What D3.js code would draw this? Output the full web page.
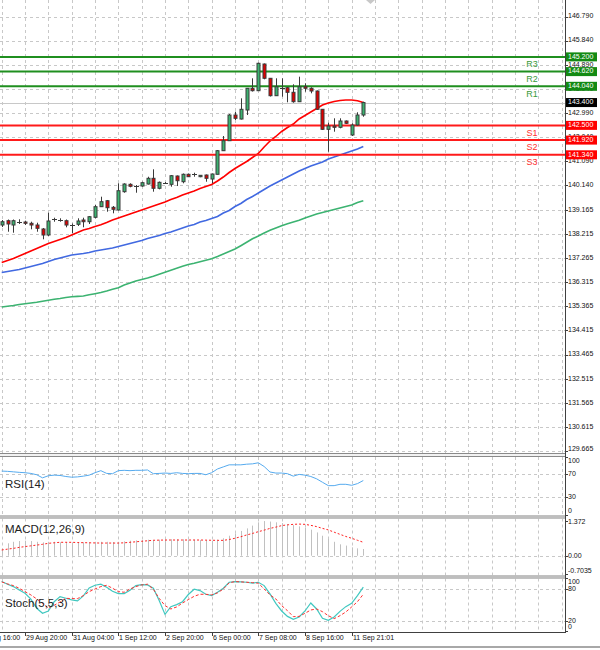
<!DOCTYPE html>
<html><head><meta charset="utf-8">
<script src="https://cdn.jsdelivr.net/npm/d3@7"></script>
<style>body{margin:0;background:#fff}svg{display:block}text{font-family:"Liberation Sans",Arial,sans-serif}</style>
</head><body><svg id="c" width="600" height="650"></svg>
<script>
// ---------- data ----------
const opens=[138.573,138.743,138.573,138.699,138.691,138.640,138.573,138.416,138.179,138.790,138.762,138.743,138.581,138.601,138.770,138.703,138.877,139.295,139.531,139.271,139.164,139.886,140.177,140.110,140.110,140.189,140.414,140.020,140.233,140.177,140.505,140.280,140.572,140.568,140.477,140.544,140.386,140.572,141.502,141.896,142.909,142.751,143.106,143.962,143.867,144.919,144.356,143.670,143.989,143.985,143.804,143.433,144.025,143.962,143.855,143.134,142.345,142.476,142.424,142.673,142.121,142.515,142.909];
const highs=[138.770,138.790,138.790,138.798,138.743,138.703,138.664,138.455,139.058,138.861,138.837,138.790,138.632,138.837,138.861,138.928,139.362,139.689,139.559,139.322,140.217,140.217,140.217,140.150,140.280,140.477,140.769,140.288,140.268,140.544,140.524,140.603,140.603,140.635,140.544,140.564,140.603,141.529,142.081,142.948,143.039,143.567,143.973,144.356,144.971,144.939,144.368,144.356,144.356,144.013,144.119,144.419,144.159,144.001,143.875,143.146,142.606,142.779,142.779,142.692,142.582,143.016,143.433];
const lows=[138.494,138.309,138.270,138.613,138.573,138.404,138.309,138.010,138.140,138.703,138.703,138.483,138.246,138.534,138.483,138.613,138.837,139.283,139.097,139.034,139.145,139.846,140.059,139.846,140.083,140.170,139.886,139.980,140.189,140.083,140.110,140.217,140.465,140.477,140.457,140.280,140.217,140.564,141.490,141.884,142.712,142.732,142.909,143.835,143.855,144.316,143.638,143.658,143.630,143.410,143.394,143.422,143.828,143.764,143.106,142.318,141.462,142.251,142.385,142.554,142.081,142.495,142.842];
const closes=[138.703,138.613,138.743,138.707,138.640,138.573,138.443,138.179,138.731,138.798,138.770,138.573,138.565,138.731,138.703,138.900,139.295,139.492,139.255,139.192,139.925,140.189,140.099,140.091,140.241,140.414,140.020,140.256,140.241,140.516,140.319,140.572,140.477,140.576,140.532,140.414,140.583,141.502,141.896,142.909,142.779,143.134,143.962,143.867,144.947,144.356,143.670,144.025,143.981,143.804,143.433,144.025,143.962,143.855,143.134,142.345,142.476,142.424,142.673,142.582,142.515,142.909,143.400];
const maFast=[137.095,137.174,137.253,137.351,137.450,137.548,137.647,137.745,137.844,137.923,138.002,138.080,138.179,138.278,138.376,138.435,138.514,138.585,138.672,138.770,138.849,138.928,139.007,139.086,139.164,139.243,139.322,139.401,139.480,139.578,139.657,139.756,139.835,139.913,140.012,140.091,140.170,140.308,140.465,140.643,140.800,140.938,141.076,141.234,141.392,141.648,141.884,142.062,142.259,142.416,142.554,142.751,142.889,143.027,143.165,143.303,143.382,143.441,143.481,143.500,143.500,143.469,143.402];
const maMid=[136.701,136.740,136.780,136.819,136.878,136.937,136.997,137.056,137.134,137.213,137.272,137.332,137.391,137.418,137.450,137.489,137.548,137.588,137.627,137.667,137.726,137.785,137.844,137.903,137.962,138.041,138.100,138.159,138.238,138.297,138.376,138.455,138.534,138.593,138.691,138.751,138.829,138.908,139.046,139.145,139.302,139.421,139.578,139.697,139.835,139.973,140.110,140.229,140.347,140.465,140.583,140.702,140.800,140.899,140.978,141.056,141.175,141.254,141.332,141.411,141.490,141.569,141.667];
const maSlow=[135.341,135.369,135.400,135.440,135.467,135.499,135.526,135.566,135.605,135.645,135.676,135.715,135.743,135.759,135.775,135.822,135.865,135.913,135.972,136.039,136.102,136.208,136.287,136.366,136.425,136.484,136.551,136.630,136.709,136.788,136.866,136.945,137.016,137.067,137.127,137.186,137.241,137.332,137.430,137.529,137.627,137.757,137.891,138.029,138.140,138.258,138.364,138.455,138.546,138.624,138.691,138.758,138.849,138.928,139.007,139.066,139.125,139.184,139.243,139.302,139.362,139.460,139.531];
const rsi=[75,74.5,73.7,72.8,72.2,71,68.7,63.4,67,68,67.5,65.7,64.5,65,66.3,68,72.2,75.7,71,70.5,75.7,76.3,75.7,76.3,76.3,76.9,70.5,71,71.6,71,72.2,71,70.5,71,71,68.7,72.2,78.6,82.2,85.7,85.7,85.7,86.8,87.4,89.2,82.8,73.4,71.6,71.6,70.5,66.3,69.3,68,65.7,61.7,55.8,50,50,52.3,52.3,50.6,53.5,58.8];
const macdHist=[0.29,0.49,0.55,0.58,0.594,0.58,0.55,0.53,0.55,0.55,0.53,0.53,0.515,0.53,0.53,0.53,0.55,0.55,0.55,0.54,0.55,0.567,0.594,0.607,0.62,0.634,0.62,0.634,0.634,0.65,0.65,0.65,0.634,0.634,0.62,0.607,0.594,0.634,0.69,0.79,0.88,0.98,1.08,1.19,1.32,1.37,1.35,1.32,1.29,1.25,1.21,1.16,1.11,1.03,0.92,0.79,0.66,0.55,0.45,0.40,0.33,0.29,0.265];
const macdSignal=[0.225,0.26,0.29,0.33,0.36,0.39,0.42,0.45,0.49,0.51,0.53,0.53,0.53,0.52,0.515,0.51,0.505,0.50,0.50,0.50,0.50,0.51,0.53,0.55,0.57,0.59,0.61,0.615,0.62,0.62,0.62,0.62,0.62,0.62,0.62,0.615,0.61,0.607,0.607,0.64,0.69,0.75,0.82,0.88,0.95,1.01,1.08,1.13,1.19,1.22,1.24,1.25,1.24,1.20,1.15,1.08,1.02,0.93,0.845,0.76,0.69,0.61,0.53];
const stochMain=[94,89,84.5,78.2,71.9,60.7,43.5,34,38.4,56,65.6,62.4,59.3,57.4,67,82,87,89,83.3,75.7,71.3,71.3,77.6,86.4,88.4,87.7,81.4,58,32,46.6,50.5,56,69.5,79.5,77,70,67.5,73.8,81.4,92.7,94,93.4,92.7,90.9,92.7,86.4,70.6,52.9,38.4,28.2,22.6,27,38.4,53.5,42.2,24.5,20.8,27,37.7,46.6,52.9,67.5,83.5];
const stochSignal=[93.4,89.6,86.4,81.4,75,68.8,61.2,52.9,44,49.1,55.5,62.4,61.8,61.8,67.5,75,80,84.5,87,81.4,75,73.8,80,84.5,87.7,89,79.5,62.4,48.5,42.2,46,53.5,59.9,66.2,70,70,68.8,72.6,80,91.6,94,93.4,92.7,92,90.9,80,68.8,61.2,48.5,39,27.7,28.2,34,40.3,42.2,37.1,29.5,23.9,29.5,36.5,46,56,70];
const priceTicks=[146.790,145.840,144.890,143.940,142.990,142.040,141.090,140.140,139.165,138.215,137.265,136.315,135.365,134.415,133.465,132.515,131.565,130.615,129.665];
const levelNames=["R3","R2","R1","S1","S2","S3"];
const levelValues=[145.200,144.620,144.040,142.500,141.920,141.340];
const lastPrice=143.400;
const rsiTicks=[100,70,30,0];
const rsiGrid=[70,30];
const macdTicks=[1.372,0,-0.7035];
const macdTickLabels=["1.372","0.00","-0.7035"];
const stochTicks=[100,80,20,0];
const stochGrid=[80,20];
const timeLabels=["26 Aug 16:00","29 Aug 20:00","31 Aug 04:00","1 Sep 12:00","2 Sep 20:00","6 Sep 00:00","7 Sep 08:00","8 Sep 16:00","11 Sep 21:01"];
const timeLabelBars=[-4,4,12,20,28,36,44,52,60];

// ---------- layout ----------
const W=600,H=650,AX=565;
const svg=d3.select("#c");
svg.append("rect").attr("width",W).attr("height",H).attr("fill","#fff");
const x=d3.scaleLinear().domain([0,62]).range([1.7,363.3]);
const y=d3.scaleLinear().domain([129.665,146.79]).range([451,16.55]);
const yR=d3.scaleLinear().domain([0,100]).range([514.8,456.5]);
const yM=d3.scaleLinear().domain([-0.7035,1.372]).range([573.5,521]);
const yS=d3.scaleLinear().domain([0,100]).range([631.3,578.4]);
const panels=[{top:0,bot:453},{top:457,bot:515.5},{top:518.5,bot:575.5},{top:578.5,bot:632}];
const defs=svg.append("defs");
panels.forEach((p,k)=>{defs.append("clipPath").attr("id","cp"+k).append("rect").attr("x",0).attr("y",p.top).attr("width",AX).attr("height",p.bot-p.top);});
const G=panels.map((p,k)=>svg.append("g").attr("clip-path","url(#cp"+k+")"));
const px=v=>Math.round(v)+0.5;

// vertical grid
const gridBars=d3.range(0,100,4).filter(i=>x(i)<AX-1);
panels.forEach((p,k)=>{
  G[k].selectAll(".vg").data(gridBars).enter().append("line")
   .attr("x1",d=>px(x(d))).attr("x2",d=>px(x(d))).attr("y1",p.top).attr("y2",p.bot)
   .attr("stroke","#c8c8c8").attr("stroke-dasharray","3,3");
});
function hgrid(g,vals,sc){g.selectAll(null).data(vals).enter().append("line")
  .attr("x1",0).attr("x2",AX).attr("y1",d=>px(sc(d))).attr("y2",d=>px(sc(d)))
  .attr("stroke","#c8c8c8").attr("stroke-dasharray","3,3");}
hgrid(G[0],priceTicks,y);hgrid(G[1],rsiGrid,yR);hgrid(G[2],[0],yM);hgrid(G[3],stochGrid,yS);

// bid line
G[0].append("line").attr("x1",0).attr("x2",AX).attr("y1",px(y(lastPrice))).attr("y2",px(y(lastPrice))).attr("stroke","#c8c8c8");

// moving averages
const ln=sc=>d3.line().x((d,i)=>x(i)).y(d=>sc(d));
[[maSlow,"#3cb371"],[maMid,"#4169e1"],[maFast,"#ff0000"]].forEach(([arr,c])=>{
  G[0].append("path").attr("d",ln(y)(arr)).attr("fill","none").attr("stroke",c).attr("stroke-width",1.6);
});

// levels
levelValues.forEach((v,i)=>{
  const col=i<3?"#1f8f1f":"#ff1a1a";
  G[0].append("line").attr("x1",0).attr("x2",AX).attr("y1",y(v)).attr("y2",y(v)).attr("stroke",col).attr("stroke-width",2);
  svg.append("text").attr("x",532).attr("y",y(v)+8).attr("text-anchor","middle").attr("dominant-baseline","middle")
   .attr("font-size",9).attr("fill",i<3?"#3a9a3a":"#ff3030").text(levelNames[i]);
});

// candles
const cg=G[0].append("g");
opens.forEach((o,i)=>{
  const c=closes[i],cx=px(x(i));
  cg.append("line").attr("x1",cx).attr("x2",cx).attr("y1",y(highs[i])).attr("y2",y(lows[i])).attr("stroke","#3a3a3a");
  const t=y(Math.max(o,c)),b=y(Math.min(o,c));
  if(b-t<1.2){
    cg.append("line").attr("x1",cx-2.5).attr("x2",cx+2.5).attr("y1",px(t)).attr("y2",px(t)).attr("stroke","#3a3a3a");
  } else {
    cg.append("rect").attr("x",cx-1.5).attr("y",t).attr("width",3).attr("height",b-t)
     .attr("fill",c>=o?"#3cb371":"#e00000").attr("stroke","#3a3a3a").attr("stroke-width",1);
  }
});

// RSI
G[1].append("path").attr("d",ln(yR)(rsi)).attr("fill","none").attr("stroke","#55aaee").attr("stroke-width",1);
// MACD
G[2].selectAll(null).data(macdHist).enter().append("line")
 .attr("x1",(d,i)=>px(x(i))).attr("x2",(d,i)=>px(x(i))).attr("y1",yM(0)).attr("y2",d=>yM(d))
 .attr("stroke","#c0c0c0").attr("stroke-width",1);
G[2].append("path").attr("d",ln(yM)(macdSignal)).attr("fill","none").attr("stroke","#ff2020").attr("stroke-width",1).attr("stroke-dasharray","2,2");
// Stoch
G[3].append("path").attr("d",ln(yS)(stochMain)).attr("fill","none").attr("stroke","#40c8c0").attr("stroke-width",1.2);
G[3].append("path").attr("d",ln(yS)(stochSignal)).attr("fill","none").attr("stroke","#ff3030").attr("stroke-width",1).attr("stroke-dasharray","3,2");

// indicator names
[["RSI(14)",485],["MACD(12,26,9)",530],["Stoch(5,5,3)",604]].forEach(([t,yy])=>{
  svg.append("text").attr("x",5).attr("y",yy).attr("dominant-baseline","middle").attr("font-size",11.5).attr("fill","#222").text(t);
});

// separators
[[453,457],[515.5,518.5],[575.5,578.5]].forEach(([a,b])=>{
  svg.append("rect").attr("x",0).attr("y",a).attr("width",AX).attr("height",b-a).attr("fill","#f2f2f2");
  svg.append("line").attr("x1",0).attr("x2",AX).attr("y1",a+0.5).attr("y2",a+0.5).attr("stroke","#8a8a8a");
  svg.append("line").attr("x1",0).attr("x2",AX).attr("y1",b-0.5).attr("y2",b-0.5).attr("stroke","#8a8a8a");
});
// axis lines
svg.append("line").attr("x1",AX+0.5).attr("x2",AX+0.5).attr("y1",0).attr("y2",632.5).attr("stroke","#404040");
svg.append("line").attr("x1",0).attr("x2",AX+1).attr("y1",632.5).attr("y2",632.5).attr("stroke","#404040");
svg.append("line").attr("x1",0).attr("x2",W).attr("y1",647).attr("y2",647).attr("stroke","#a8a8a8").attr("stroke-width",2);

// right axis labels
function rlabels(vals,sc,fmt,top,bot){
  vals.forEach((v,i)=>{
    const yy=Math.max(top+4,Math.min(bot-4,sc(v)));
    svg.append("line").attr("x1",AX+1).attr("x2",AX+3).attr("y1",px(sc(v))).attr("y2",px(sc(v))).attr("stroke","#404040");
    svg.append("text").attr("x",AX+3).attr("y",yy).attr("dominant-baseline","middle").attr("font-size",7).attr("fill","#111").text(fmt(v,i));
  });
}
rlabels(priceTicks,y,v=>d3.format(".3f")(v),0,453);
rlabels(rsiTicks,yR,v=>String(v),457,515);
rlabels(macdTicks,yM,(v,i)=>macdTickLabels[i],518.5,575.5);
rlabels(stochTicks,yS,v=>String(v),578.5,631);

// price boxes
function box(v,fill){
  const g=svg.append("g");
  g.append("rect").attr("x",AX+1).attr("y",y(v)-4.5).attr("width",31).attr("height",9).attr("fill",fill);
  g.append("text").attr("x",AX+3).attr("y",y(v)).attr("dominant-baseline","middle").attr("font-size",7).attr("fill","#fff").text(d3.format(".3f")(v));
}
levelValues.forEach((v,i)=>box(v,i<3?"#138a13":"#ff0000"));
box(lastPrice,"#000");

// time axis
timeLabelBars.forEach((b,i)=>{
  const xx=px(x(b));
  svg.append("line").attr("x1",xx).attr("x2",xx).attr("y1",632).attr("y2",636).attr("stroke","#404040");
  svg.append("text").attr("x",xx+0.5).attr("y",638.5).attr("dominant-baseline","middle").attr("font-size",7).attr("fill","#111").text(timeLabels[i]);
});
// small watermark mark at top
svg.append("path").attr("d","M366,0 L375,0 L370.5,4 Z").attr("fill","#c8c8c8");
</script></body></html>
